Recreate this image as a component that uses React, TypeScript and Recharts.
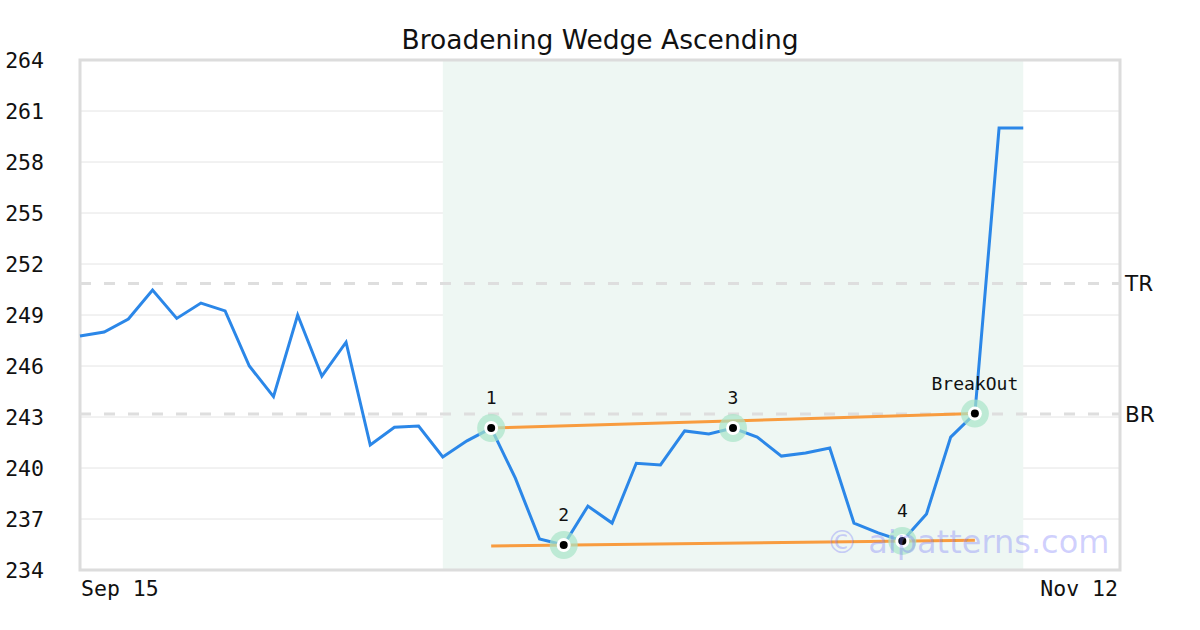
import React from 'react';
import {
  ComposedChart,
  Line,
  Scatter,
  XAxis,
  YAxis,
  CartesianGrid,
  ReferenceArea,
  ReferenceLine,
} from 'recharts';

// closing prices, one per session
const closes = [
  247.76, 248.0, 248.76, 250.47, 248.8, 249.7, 249.24, 246.0, 244.2, 249.0,
  245.4, 247.4, 241.35, 242.4, 242.47, 240.65, 241.6, 242.35, 239.4, 235.82,
  235.47, 237.76, 236.76, 240.28, 240.18, 242.18, 242.0, 242.35, 241.82, 240.7,
  240.88, 241.18, 236.76, 236.18, 235.71, 237.3, 241.82, 243.2, 260.0, 260.0,
];

const xTicks = [0, 43];
const xTickLabels = ['Sep 15', 'Nov 12'];
const yTicks = [234, 237, 240, 243, 246, 249, 252, 255, 258, 261, 264];

// pattern points (index into closes) and their labels
const patternIdx = [17, 20, 27, 34, 37];
const patternLabels = ['1', '2', '3', '4', 'BreakOut'];

// wedge trend lines
const upperLine = [
  { x: 17, y: 242.35 },
  { x: 37, y: 243.2 },
];
const lowerLine = [
  { x: 17, y: 235.41 },
  { x: 37, y: 235.75 },
];

const patternStart = 15;
const patternEnd = 39;
const resistance = 250.86;
const support = 243.18;

const data = closes.map((y, x) => ({ x, y }));
const patternPoints = patternIdx.map((i, k) => ({ x: i, y: closes[i], label: patternLabels[k] }));

const mono = '"DejaVu Sans Mono", monospace';
const sans = '"DejaVu Sans", sans-serif';

const YTick = (props: any) => {
  const { y, payload } = props;
  return (
    <text x={44} y={y} textAnchor="end" dominantBaseline="central" fontFamily={mono} fontSize={21.5} fill="#111">
      {payload.value}
    </text>
  );
};

const XTick = (props: any) => {
  const { x, payload } = props;
  const first = payload.value === xTicks[0];
  return (
    <text
      x={first ? x + 1 : x - 2}
      y={588}
      textAnchor={first ? 'start' : 'end'}
      dominantBaseline="central"
      fontFamily={mono}
      fontSize={21.5}
      fill="#111"
    >
      {xTickLabels[xTicks.indexOf(payload.value)]}
    </text>
  );
};

const Marker = (props: any) => {
  const { cx, cy, payload } = props;
  return (
    <g>
      <circle cx={cx} cy={cy} r={14} fill="#a8e4c8" fillOpacity={0.7} />
      <circle cx={cx} cy={cy} r={7} fill="#fff" />
      <circle cx={cx} cy={cy} r={4} fill="#000" />
      <text x={cx} y={cy - 24} textAnchor="middle" fontFamily={mono} fontSize={18} fill="#111">
        {payload.label}
      </text>
    </g>
  );
};

export default function App() {
  return (
    <div style={{ position: 'absolute', left: 0, top: 0, width: 1200, height: 630, background: '#fff' }}>
      <div
        style={{
          position: 'absolute',
          top: 23,
          left: 0,
          width: 1200,
          textAlign: 'center',
          fontFamily: sans,
          fontSize: 26.5,
          lineHeight: '34px',
          color: '#111',
        }}
      >
        Broadening Wedge Ascending
      </div>
      <ComposedChart width={1200} height={630} data={data} margin={{ top: 60, right: 80, bottom: 0, left: 0 }}>
        <ReferenceArea x1={patternStart} x2={patternEnd} y1={234} y2={264} fill="#eef7f3" fillOpacity={1} stroke="none" />
        <CartesianGrid vertical={false} stroke="#e4e4e4" strokeWidth={1} />
        <XAxis
          dataKey="x"
          type="number"
          domain={[0, 43]}
          ticks={xTicks}
          tick={<XTick />}
          axisLine={false}
          tickLine={false}
          height={60}
          interval={0}
        />
        <YAxis
          type="number"
          domain={[234, 264]}
          ticks={yTicks}
          tick={<YTick />}
          axisLine={false}
          tickLine={false}
          width={80}
          interval={0}
        />
        <ReferenceArea x1={0} x2={43} y1={234} y2={264} fill="none" stroke="#dcdcdc" strokeWidth={3} />
        <ReferenceLine
          y={resistance}
          stroke="#dedede"
          strokeWidth={3}
          strokeDasharray="11 13"
          label={{ value: 'TR', position: 'right', offset: 5, fontFamily: sans, fontSize: 21.5, fill: '#111' }}
        />
        <ReferenceLine
          y={support}
          stroke="#dedede"
          strokeWidth={3}
          strokeDasharray="11 13"
          label={{ value: 'BR', position: 'right', offset: 5, fontFamily: sans, fontSize: 21.5, fill: '#111' }}
        />
        <Line dataKey="y" stroke="#2b87e8" strokeWidth={3} dot={false} isAnimationActive={false} />
        <Line data={upperLine} dataKey="y" stroke="#f89c3f" strokeWidth={3} dot={false} isAnimationActive={false} />
        <Line data={lowerLine} dataKey="y" stroke="#f89c3f" strokeWidth={3} dot={false} isAnimationActive={false} />
        <Scatter data={patternPoints} dataKey="y" shape={<Marker />} isAnimationActive={false} />
      </ComposedChart>
      <div
        style={{
          position: 'absolute',
          left: 826,
          top: 521,
          fontFamily: sans,
          fontSize: 32,
          lineHeight: '42px',
          color: 'rgba(120,120,250,0.35)',
          whiteSpace: 'nowrap',
          pointerEvents: 'none',
        }}
      >
        © aipatterns.com
      </div>
    </div>
  );
}
